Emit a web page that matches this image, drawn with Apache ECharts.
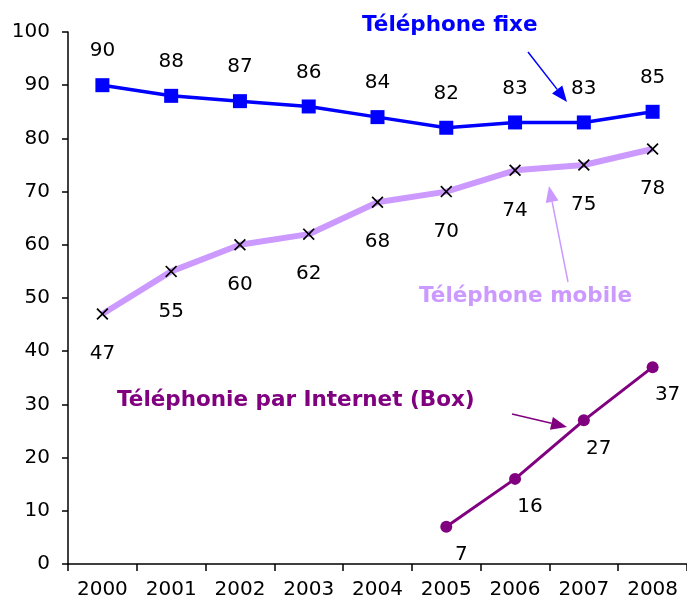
<!DOCTYPE html>
<html>
<head>
<meta charset="utf-8">
<script src="https://cdn.jsdelivr.net/npm/echarts@6/dist/echarts.min.js"></script>
<style>
  html, body { margin: 0; padding: 0; background: #fff; }
  #chart { width: 687px; height: 610px; }
</style>
</head>
<body>
<div id="chart"></div>
<script>
// années
const years = ['2000', '2001', '2002', '2003', '2004', '2005', '2006', '2007', '2008']
// pourcentages
const fixe = [90, 88, 87, 86, 84, 82, 83, 83, 85]
const mobile = [47, 55, 60, 62, 68, 70, 74, 75, 78]
const box = [null, null, null, null, null, 7, 16, 27, 37]

const chart = echarts.init(document.getElementById('chart'))
const font = 'DejaVu Sans'
const crossSymbol = 'path://M0,1L1,0L5,4L9,0L10,1L6,5L10,9L9,10L5,6L1,10L0,9L4,5Z'
const titleFont = 'bold 21.5px "DejaVu Sans"'

// flèche : trait + pointe
function arrow (x1, y1, x2, y2, color, width) {
  const a = Math.atan2(y2 - y1, x2 - x1)
  const len = 16, half = 6.5
  const bx = x2 - len * Math.cos(a), by = y2 - len * Math.sin(a)
  const px = -Math.sin(a) * half, py = Math.cos(a) * half
  return [
    { type: 'line', shape: { x1: x1, y1: y1, x2: bx, y2: by }, style: { stroke: color, lineWidth: width } },
    { type: 'polygon', shape: { points: [[x2, y2], [bx + px, by + py], [bx - px, by - py]] }, style: { fill: color } }
  ]
}

const labelStyle = { show: true, color: '#000', fontFamily: font, fontSize: 20 }

chart.setOption({
  animation: false,
  grid: { left: 68, top: 32, right: -7, bottom: 46 },
  xAxis: {
    type: 'category',
    data: years,
    axisLine: { lineStyle: { color: '#000', width: 1.5 } },
    axisTick: { show: true, length: 7, interval: 0, lineStyle: { color: '#000', width: 1.5 } },
    axisLabel: { color: '#000', fontFamily: font, fontSize: 20, margin: 16, interval: 0 }
  },
  yAxis: {
    type: 'value',
    min: 0,
    max: 100,
    interval: 10,
    splitLine: { show: false },
    axisLine: { show: true, lineStyle: { color: '#000', width: 1.5 } },
    axisTick: { show: true, length: 6, lineStyle: { color: '#000', width: 1.5 } },
    axisLabel: { color: '#000', fontFamily: font, fontSize: 20, margin: 18 }
  },
  series: [
    {
      name: 'Téléphone fixe',
      type: 'line',
      data: fixe,
      symbol: 'rect',
      symbolSize: 14,
      lineStyle: { color: '#0000ff', width: 3.5 },
      itemStyle: { color: '#0000ff' },
      label: Object.assign({ position: 'top', distance: 17 }, labelStyle)
    },
    {
      name: 'Téléphone mobile',
      type: 'line',
      data: mobile,
      symbol: crossSymbol,
      symbolSize: 12,
      lineStyle: { color: '#cc99ff', width: 6 },
      itemStyle: { color: '#000' },
      label: Object.assign({ position: 'bottom', distance: 24 }, labelStyle)
    },
    {
      name: 'Téléphonie par Internet (Box)',
      type: 'line',
      data: box,
      symbol: 'circle',
      symbolSize: 12,
      lineStyle: { color: '#800080', width: 3 },
      itemStyle: { color: '#800080' },
      label: Object.assign({ position: 'bottom', distance: 12, offset: [15, 0] }, labelStyle)
    }
  ],
  graphic: [
    { type: 'text', left: 362, top: 14, style: { text: 'Téléphone fixe', fill: '#0000ff', font: titleFont } },
    { type: 'text', left: 419, top: 285, style: { text: 'Téléphone mobile', fill: '#cc99ff', font: titleFont } },
    { type: 'text', left: 117, top: 389, style: { text: 'Téléphonie par Internet (Box)', fill: '#800080', font: titleFont } }
  ]
    .concat(arrow(528, 52, 567, 102, '#0000ff', 1.5))
    .concat(arrow(568, 282, 549, 186, '#cc99ff', 1.5))
    .concat(arrow(512, 414, 567, 427, '#800080', 1.5))
})
</script>
</body>
</html>
